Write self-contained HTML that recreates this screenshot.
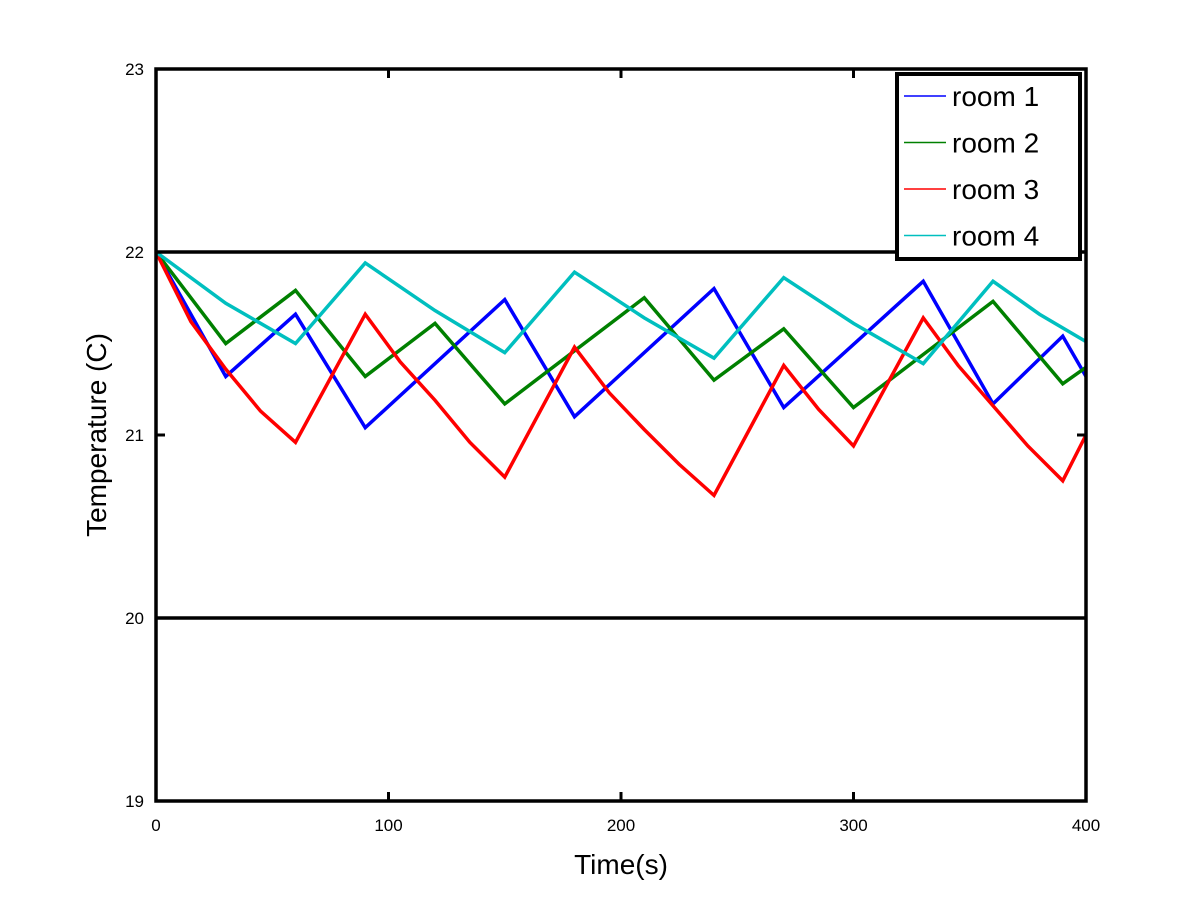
<!DOCTYPE html>
<html><head><meta charset="utf-8">
<style>
html,body{margin:0;padding:0;background:#fff;}
svg{display:block;font-family:"Liberation Sans",sans-serif;}
</style></head>
<body>
<svg id="chart" width="1200" height="900" viewBox="0 0 1200 900"></svg>
<script>
const xTicks=[0,100,200,300,400];
const yTicks=[19,20,21,22,23];
const refLines=[22,20];
const room1T=[0,30,60,90,150,180,240,270,330,360,390,400];
const room1V=[22,21.32,21.66,21.04,21.74,21.10,21.80,21.15,21.84,21.17,21.54,21.32];
const room2T=[0,30,60,90,120,150,210,240,270,300,360,390,400];
const room2V=[22,21.50,21.79,21.32,21.61,21.17,21.75,21.30,21.58,21.15,21.73,21.28,21.37];
const room3T=[0,15,30,45,60,90,105,120,135,150,180,195,210,225,240,270,285,300,330,345,360,375,390,400];
const room3V=[22,21.62,21.36,21.13,20.96,21.66,21.40,21.19,20.96,20.77,21.48,21.23,21.03,20.84,20.67,21.38,21.14,20.94,21.64,21.38,21.16,20.94,20.75,21.0];
const room4T=[0,30,60,90,120,150,180,210,240,270,300,330,360,380,400];
const room4V=[22,21.72,21.50,21.94,21.68,21.45,21.89,21.64,21.42,21.86,21.61,21.39,21.84,21.66,21.51];
const seriesNames=["room 1","room 2","room 3","room 4"];

const X0=156,X1=1086,Y0=801,Y1=69;
const xs=v=>X0+(v-0)/(400-0)*(X1-X0);
const ys=v=>Y0-(v-19)/(23-19)*(Y0-Y1);
const NS="http://www.w3.org/2000/svg";
const svg=document.getElementById('chart');
function mk(tag,attrs,parent){const e=document.createElementNS(NS,tag);for(const k in attrs)e.setAttribute(k,attrs[k]);(parent||svg).appendChild(e);return e;}

const series=[[room1T,room1V,"#0000ff","room-1-line"],[room2T,room2V,"#008000","room-2-line"],[room3T,room3V,"#ff0000","room-3-line"],[room4T,room4V,"#00bfbf","room-4-line"]];
series.forEach(s=>{
  const pts=s[0].map((t,i)=>xs(t)+","+ys(s[1][i])).join(" ");
  const p=mk('polyline',{points:pts,fill:"none",stroke:s[2],"stroke-width":3.5,"stroke-linejoin":"miter"});
  
  
});
refLines.forEach(v=>{
  const l=mk('line',{x1:X0,x2:X1,y1:ys(v),y2:ys(v),stroke:"#000","stroke-width":3.5});
  
  
});
const frame=mk('rect',{x:X0,y:Y1,width:X1-X0,height:Y0-Y1,fill:"none",stroke:"#000","stroke-width":3.5});



xTicks.forEach(v=>{
  const x=xs(v);
  mk('line',{x1:x,x2:x,y1:Y0,y2:Y0-9,stroke:"#000","stroke-width":3});
  mk('line',{x1:x,x2:x,y1:Y1,y2:Y1+9,stroke:"#000","stroke-width":3});
  const t=mk('text',{x:x,y:Y0+30,"text-anchor":"middle","font-size":17});
  t.textContent=v;
  
  
});
yTicks.forEach(v=>{
  const y=ys(v);
  mk('line',{x1:X0,x2:X0+9,y1:y,y2:y,stroke:"#000","stroke-width":3});
  mk('line',{x1:X1,x2:X1-9,y1:y,y2:y,stroke:"#000","stroke-width":3});
  const t=mk('text',{x:X0-12,y:y+6,"text-anchor":"end","font-size":17});
  t.textContent=v;
  
  
});
const xl=mk('text',{x:621,y:874,"text-anchor":"middle","font-size":28});
xl.textContent="Time(s)";


const yl=mk('text',{x:0,y:0,"text-anchor":"middle","font-size":28,transform:"translate(106,435) rotate(-90)"});
yl.textContent="Temperature (C)";



const lg=mk('g',{});


mk('rect',{x:897,y:74,width:183,height:185,fill:"#fff",stroke:"#000","stroke-width":4},lg);
seriesNames.forEach((n,i)=>{
  const y=96+i*46.5;
  mk('line',{x1:904,x2:946,y1:y,y2:y,stroke:series[i][2],"stroke-width":1.5},lg);
  const t=mk('text',{x:952,y:y+10,"font-size":28},lg);
  t.textContent=n;
  
  
});
</script>
</body></html>
